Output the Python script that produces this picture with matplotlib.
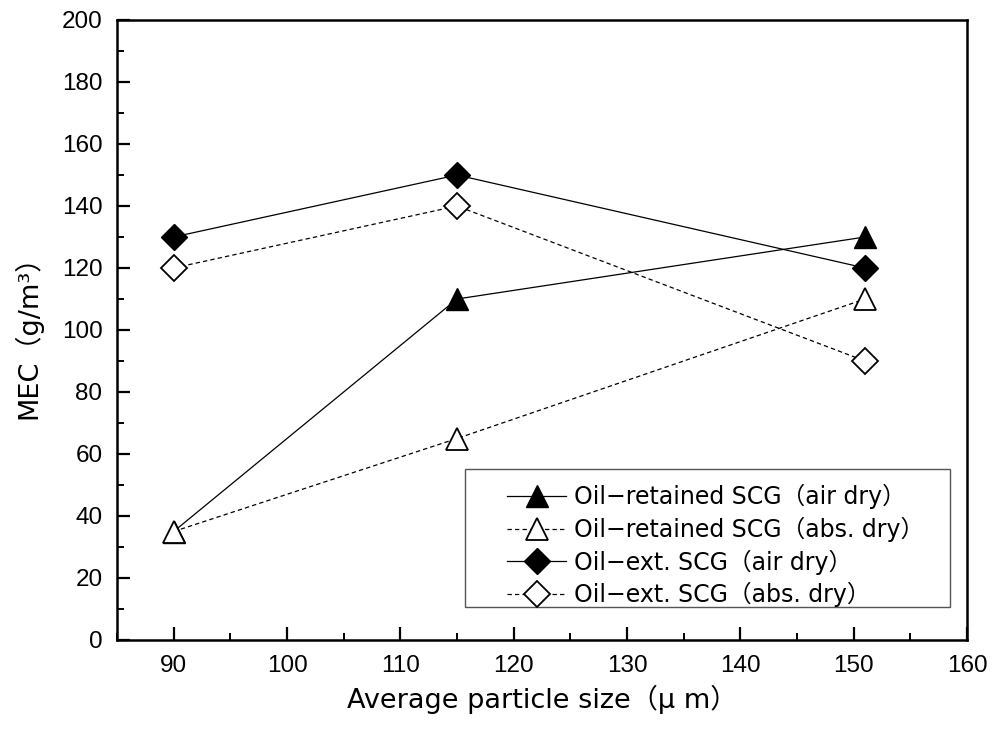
import matplotlib
matplotlib.use("Agg")
import matplotlib.pyplot as plt
from matplotlib.ticker import MultipleLocator
from matplotlib.patches import Rectangle

plt.rcParams['font.family'] = ['DejaVu Sans', 'Noto Sans CJK JP']

# Average particle size (µm) and MEC (g/m3) for each sample
particle_size = [90, 115, 151]
retained_air = [35, 110, 130]
retained_abs = [35, 65, 110]
extracted_air = [130, 150, 120]
extracted_abs = [120, 140, 90]

x_ticks = [90, 100, 110, 120, 130, 140, 150, 160]

labels = [
    "Oil\u2212retained SCG\uff08air dry\uff09",
    "Oil\u2212retained SCG\uff08abs. dry\uff09",
    "Oil\u2212ext. SCG\uff08air dry\uff09",
    "Oil\u2212ext. SCG\uff08abs. dry\uff09",
]

W, H = 992, 733
fig = plt.figure(figsize=(W / 100, H / 100), dpi=100)
ax = fig.add_axes([117 / W, 1 - 640 / H, (967 - 117) / W, (640 - 20) / H])

ax.plot(particle_size, retained_air, '-', color='black', lw=0.9,
        marker='^', ms=16, mfc='black', mec='black', mew=1.0, label=labels[0])
ax.plot(particle_size, retained_abs, '--', color='black', lw=0.9, dashes=(3.5, 2.5),
        marker='^', ms=16, mfc='white', mec='black', mew=1.3, label=labels[1])
ax.plot(particle_size, extracted_air, '-', color='black', lw=0.9,
        marker='D', ms=13.5, mfc='black', mec='black', mew=1.0, label=labels[2])
ax.plot(particle_size, extracted_abs, '--', color='black', lw=0.9, dashes=(3.5, 2.5),
        marker='D', ms=13.5, mfc='white', mec='black', mew=1.3, label=labels[3])

ax.set_xlim(85, 160)
ax.set_ylim(0, 200)
ax.set_xticks(x_ticks)
ax.xaxis.set_minor_locator(MultipleLocator(5))
ax.yaxis.set_major_locator(MultipleLocator(20))
ax.yaxis.set_minor_locator(MultipleLocator(10))

for s in ax.spines.values():
    s.set_linewidth(1.8)
ax.tick_params(which='major', direction='in', length=9.5, width=1.6, pad=10.5)
ax.tick_params(which='minor', direction='in', length=5, width=1.4)
for lab in ax.get_xticklabels() + ax.get_yticklabels():
    lab.set_fontfamily('Liberation Sans')
    lab.set_fontsize(17.5)

ax.set_xlabel("Average particle size\uff08\u03bc m\uff09", fontsize=19.5)
ax.set_ylabel("MEC\uff08g/m\u00b3\uff09", fontsize=19.5)
ax.xaxis.set_label_coords(0.5, -0.072)
ax.yaxis.set_label_coords(-0.088, 0.5)

# legend frame drawn separately so the padding can be placed freely
frame = Rectangle((465 / W, 1 - 607 / H), (950 - 465) / W, (607 - 469) / H,
                  transform=fig.transFigure, facecolor='white',
                  edgecolor='#555555', lw=1.0, zorder=4, clip_on=False)
ax.add_patch(frame)

leg = ax.legend(loc='upper left', bbox_to_anchor=(507 / W, 1 - 484 / H),
                bbox_transform=fig.transFigure, fontsize=17, frameon=False,
                handlelength=2.5, handletextpad=0.35, labelspacing=0.32,
                borderpad=0, borderaxespad=0)
leg.set_zorder(5)

fig.savefig("out.png", dpi=100)
